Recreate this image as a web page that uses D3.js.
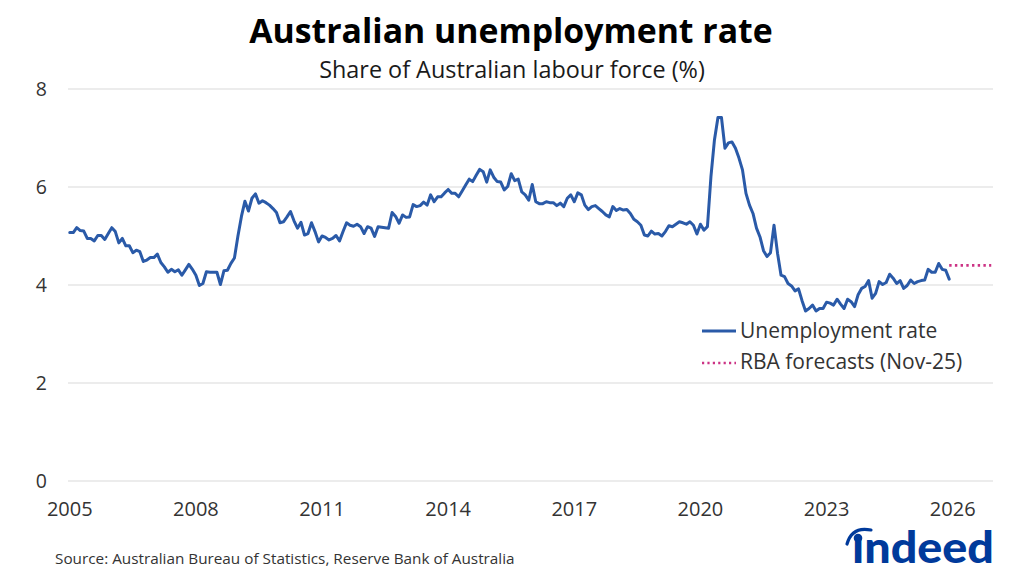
<!DOCTYPE html>
<html>
<head>
<meta charset="utf-8">
<script src="https://cdn.jsdelivr.net/npm/d3@7"></script>
<style>
  html, body { margin: 0; padding: 0; background: #ffffff; }
  svg { display: block; font-family: "Open Sans", "Noto Sans", sans-serif; }
</style>
</head>
<body>
<svg id="chart" width="1024" height="573"></svg>
<script>
// ---- Data ----
const startYear = 2005;
const monthCount = 264; // Jan 2005 .. Dec 2026 category slots
const yTicks = [0, 2, 4, 6, 8];
const xTickYears = [2005, 2008, 2011, 2014, 2017, 2020, 2023, 2026];

// Monthly unemployment rate, Jan 2005 .. Dec 2025 (%)
const unemployment = [
  5.07,5.07,5.17,5.11,5.10,4.95,4.95,4.90,5.01,5.01,4.93,5.05, // 2005
  5.17,5.09,4.86,4.95,4.80,4.80,4.66,4.71,4.68,4.48,4.51,4.56, // 2006
  4.56,4.63,4.46,4.37,4.26,4.32,4.27,4.31,4.20,4.31,4.42,4.32, // 2007
  4.20,3.99,4.03,4.27,4.26,4.26,4.26,4.01,4.29,4.30,4.44,4.55, // 2008
  5.00,5.40,5.71,5.51,5.77,5.86,5.67,5.72,5.68,5.63,5.56,5.48, // 2009
  5.27,5.29,5.39,5.50,5.31,5.16,5.28,5.02,5.05,5.27,5.09,4.88, // 2010
  5.00,4.97,4.92,4.95,5.01,4.90,5.09,5.27,5.22,5.20,5.24,5.19, // 2011
  5.05,5.19,5.16,4.99,5.19,5.18,5.17,5.16,5.48,5.40,5.26,5.43, // 2012
  5.38,5.39,5.64,5.60,5.62,5.69,5.63,5.84,5.70,5.80,5.80,5.88, // 2013
  5.95,5.87,5.87,5.80,5.92,6.04,6.16,6.11,6.24,6.36,6.31,6.10, // 2014
  6.35,6.20,6.11,6.10,5.94,6.01,6.27,6.13,6.16,5.90,5.84,5.73, // 2015
  6.05,5.70,5.66,5.66,5.70,5.68,5.68,5.62,5.67,5.60,5.77,5.84, // 2016
  5.70,5.88,5.84,5.63,5.54,5.60,5.62,5.56,5.50,5.43,5.39,5.60, // 2017
  5.52,5.56,5.53,5.54,5.46,5.34,5.29,5.22,5.02,5.00,5.10,5.04, // 2018
  5.05,5.00,5.09,5.21,5.19,5.24,5.29,5.27,5.24,5.29,5.22,5.04, // 2019
  5.24,5.12,5.19,6.21,6.96,7.42,7.42,6.79,6.90,6.92,6.79,6.59, // 2020
  6.35,5.87,5.63,5.46,5.16,4.98,4.70,4.58,4.66,5.22,4.65,4.20, // 2021
  4.17,4.03,3.98,3.88,3.92,3.68,3.47,3.52,3.59,3.47,3.52,3.52, // 2022
  3.65,3.63,3.59,3.71,3.61,3.52,3.71,3.66,3.56,3.80,3.93,3.97, // 2023
  4.09,3.73,3.83,4.07,4.01,4.05,4.22,4.14,4.03,4.09,3.93,3.99, // 2024
  4.10,4.03,4.07,4.09,4.10,4.32,4.26,4.26,4.44,4.32,4.30,4.12  // 2025
];

// RBA forecasts (Nov-25): Dec-2025, Jun-2026, Dec-2026
const forecastMonths = ["2025-12", "2026-06", "2026-12"];
const forecastValues = [4.4, 4.4, 4.4];

const titleText = "Australian unemployment rate";
const subtitleText = "Share of Australian labour force (%)";
const sourceText = "Source: Australian Bureau of Statistics, Reserve Bank of Australia";
const legendLabels = ["Unemployment rate", "RBA forecasts (Nov-25)"];

// ---- Drawing ----
const svg = d3.select("#chart");
const plot = { left: 68, right: 993, top: 89, bottom: 481 };

const x = d3.scaleBand()
  .domain(d3.range(monthCount))
  .range([plot.left, plot.right])
  .paddingInner(0).paddingOuter(0);
const xc = i => x(i) + x.bandwidth() / 2;
const monthIndex = s => { const [yy, mm] = s.split("-").map(Number); return (yy - startYear) * 12 + (mm - 1); };

const y = d3.scaleLinear().domain([0, 8]).range([plot.bottom, plot.top]);

// Gridlines
svg.append("g")
  .selectAll("line")
  .data(yTicks)
  .join("line")
  .attr("x1", plot.left).attr("x2", plot.right)
  .attr("y1", d => y(d)).attr("y2", d => y(d))
  .attr("stroke", "#d9d9d9").attr("stroke-width", 1.2);

// Y axis labels
const yAxis = d3.axisLeft(y).tickValues(yTicks).tickSize(0).tickPadding(0).tickFormat(d3.format("d"));
const gy = svg.append("g").attr("transform", `translate(${plot.left - 21},0)`).call(yAxis);
gy.select(".domain").remove();
gy.selectAll("text")
  .attr("font-family", "'Open Sans', sans-serif")
  .attr("font-size", 19.5).attr("fill", "#333333");

// X axis labels
const xAxis = d3.axisBottom(x)
  .tickValues(xTickYears.map(yr => (yr - startYear) * 12))
  .tickSize(0).tickPadding(0)
  .tickFormat(i => String(startYear + Math.round(i / 12)));
const gx = svg.append("g").attr("transform", `translate(0,${plot.bottom + 21})`).call(xAxis);
gx.select(".domain").remove();
gx.selectAll("text")
  .attr("font-family", "'Open Sans', sans-serif")
  .attr("font-size", 20).attr("fill", "#333333");

// Unemployment line
const line = d3.line().x((d, i) => xc(i)).y(d => y(d));
svg.append("path")
  .datum(unemployment)
  .attr("d", line)
  .attr("fill", "none")
  .attr("stroke", "#2a5aa8")
  .attr("stroke-width", 3)
  .attr("stroke-linejoin", "round")
  .attr("stroke-linecap", "round");

// Forecast dotted line
const fData = forecastMonths.map((m, k) => ({ i: monthIndex(m), v: forecastValues[k] }));
svg.append("path")
  .datum(fData)
  .attr("d", d3.line().x(d => xc(d.i)).y(d => y(d.v)))
  .attr("fill", "none")
  .attr("stroke", "#cc3385")
  .attr("stroke-width", 2.6)
  .attr("stroke-dasharray", "2.4,3.3");

// Titles
svg.append("text")
  .attr("x", 511).attr("y", 43)
  .attr("text-anchor", "middle")
  .attr("font-family", "'Open Sans', sans-serif")
  .attr("font-weight", 700).attr("font-size", 33.8)
  .attr("fill", "#000000")
  .text(titleText);
svg.append("text")
  .attr("x", 512).attr("y", 78)
  .attr("text-anchor", "middle")
  .attr("font-family", "'Open Sans', sans-serif")
  .attr("font-size", 23.4).attr("fill", "#1a1a1a")
  .text(subtitleText);

// Legend
const legend = svg.append("g");
legend.append("line")
  .attr("x1", 702).attr("x2", 736).attr("y1", 331).attr("y2", 331)
  .attr("stroke", "#2a5aa8").attr("stroke-width", 3);
legend.append("text")
  .attr("x", 740).attr("y", 338)
  .attr("font-family", "'Open Sans', sans-serif")
  .attr("font-size", 21).attr("fill", "#333333")
  .text(legendLabels[0]);
legend.append("line")
  .attr("x1", 702).attr("x2", 736).attr("y1", 363).attr("y2", 363)
  .attr("stroke", "#cc3385").attr("stroke-width", 2.4)
  .attr("stroke-dasharray", "2.2,3.2");
legend.append("text")
  .attr("x", 740).attr("y", 369)
  .attr("font-family", "'Open Sans', sans-serif")
  .attr("font-size", 21).attr("fill", "#333333")
  .text(legendLabels[1]);

// Source
svg.append("text")
  .attr("x", 55).attr("y", 564)
  .attr("font-family", "'Open Sans', sans-serif")
  .attr("font-size", 15.3).attr("fill", "#333333")
  .text(sourceText);

// Indeed logo
const logo = svg.append("g");
logo.append("text")
  .attr("x", 852).attr("y", 563)
  .attr("font-family", "Lato, 'Open Sans', sans-serif")
  .attr("font-weight", 900).attr("font-size", 44)
  .attr("fill", "#003a9b")
  .attr("textLength", 142).attr("lengthAdjust", "spacingAndGlyphs")
  .text("\u0131ndeed");
logo.append("path")
  .attr("d", "M847,544 Q852,526 871,530")
  .attr("fill", "none").attr("stroke", "#003a9b").attr("stroke-width", 3.2)
  .attr("stroke-linecap", "round");
logo.append("circle").attr("cx", 858).attr("cy", 538).attr("r", 4.3).attr("fill", "#003a9b");
</script>
</body>
</html>
